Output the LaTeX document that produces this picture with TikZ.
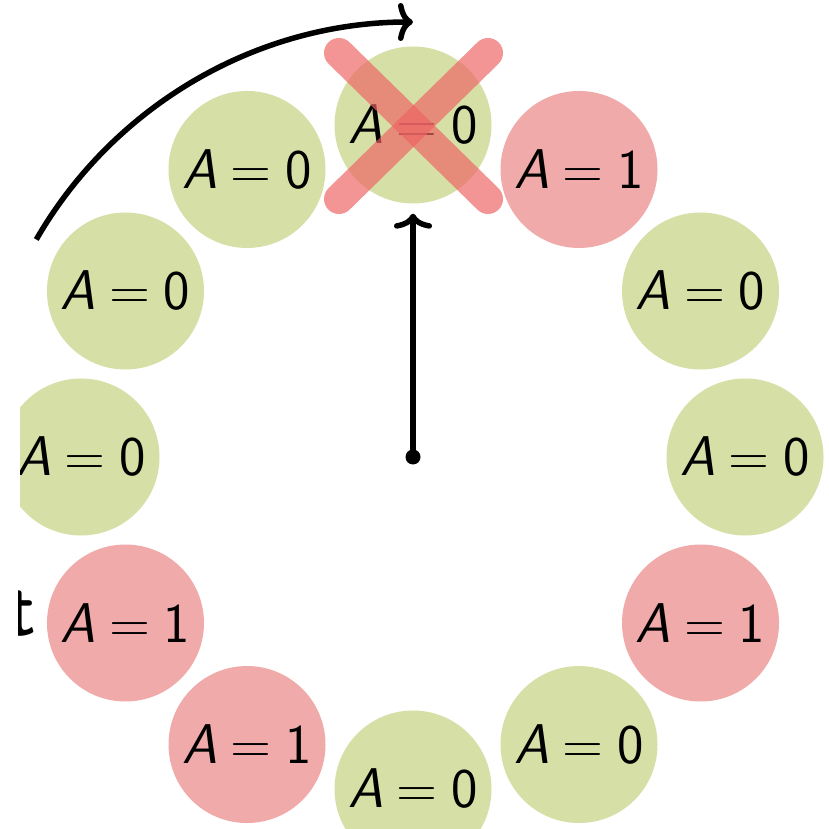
\documentclass[tikz,border=0pt]{standalone}
\usetikzlibrary{arrows.meta}
\definecolor{ngreen}{RGB}{214,224,166}
\definecolor{nred}{RGB}{240,170,170}
\definecolor{xred}{RGB}{238,100,100}
\newcommand\eqlab[1]{{\itshape A}\hspace{0.24em}=\hspace{0.24em}#1}
\begin{document}
\begin{tikzpicture}[x=1pt,y=1pt,
  st/.style={circle,minimum size=157pt,inner sep=0pt,text=black,
    font=\fontsize{56}{66}\selectfont\sffamily},
  gst/.style={st,fill=ngreen},
  rst/.style={st,fill=nred},
  arr/.style={line width=5.5pt,-{To[length=15pt,width=38pt]}},
  xline/.style={line width=30pt,line cap=round,draw=xred,opacity=0.68}]
\useasboundingbox (0,0) rectangle (829,828);
\fill[white] (0,0) rectangle (829,828);
\coordinate (C) at (413,371);
\begin{scope}
\clip (20,0) rectangle (829,828);
\node[gst] (n0) at ([shift={(C)}]90:332) {\eqlab{0}};
\node[rst] (n1) at ([shift={(C)}]60:332) {\eqlab{1}};
\node[gst] (n2) at ([shift={(C)}]30:332) {\eqlab{0}};
\node[gst] (n3) at ([shift={(C)}]0:332) {\eqlab{0}};
\node[rst] (n4) at ([shift={(C)}]-30:332) {\eqlab{1}};
\node[gst] (n5) at ([shift={(C)}]-60:332) {\eqlab{0}};
\node[gst] (n6) at ([shift={(C)}]-90:332) {\eqlab{0}};
\node[rst] (n7) at ([shift={(C)}]-120:332) {\eqlab{1}};
\node[rst] (n8) at ([shift={(C)}]-150:332) {\eqlab{1}};
\node[gst] (n9) at ([shift={(C)}]180:332) {\eqlab{0}};
\node[gst] (n10) at ([shift={(C)}]150:332) {\eqlab{0}};
\node[gst] (n11) at ([shift={(C)}]120:332) {\eqlab{0}};
\end{scope}
\begin{scope}
\clip (18,0) rectangle (60,828);
\node[anchor=base east,inner sep=0pt,text=black,font=\fontsize{76}{88}\selectfont\sffamily\bfseries] (tfrag) at (36,193) {t};
\end{scope}
% X over top node
\draw[xline] ([shift={(-74,72)}]n0.center) -- ([shift={(75,-74)}]n0.center);
\draw[xline] ([shift={(75,72)}]n0.center) -- ([shift={(-74,-74)}]n0.center);
% centre dot and arrow
\fill (C) circle[radius=7.5];
\draw[arr,shorten >=10pt] (C) -- (n0.south);
% curved arrow
\coordinate (a0) at ([shift={(C)}]150:435);
\coordinate (a1) at ([shift={(C)}]90:435);
\draw[arr] (a0) arc[start angle=150,end angle=90,radius=435];
\end{tikzpicture}
\end{document}
